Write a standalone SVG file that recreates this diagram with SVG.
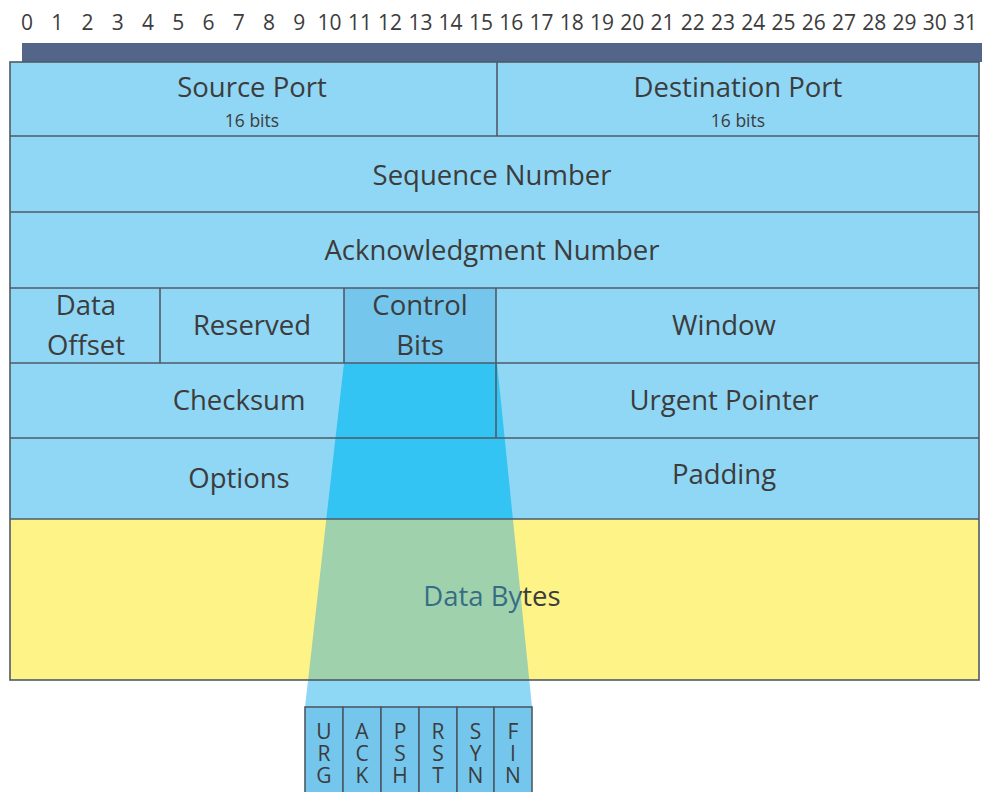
<svg xmlns="http://www.w3.org/2000/svg" width="982" height="792" viewBox="0 0 982 792">
  <style>
    .cell { fill: #90D7F5; }
    .ctl { fill: #74C6EC; }
    .line { stroke: #4E5A66; stroke-width: 1.6; fill: none; }
    .flagbox { fill: #74C6EC; stroke: #4E5A66; stroke-width: 1.6; }
    .t { font-family: "Open Sans", "DejaVu Sans", sans-serif; fill: #3C3C3C; text-anchor: middle; }
    .big { font-size: 27.5px; }
    .small { font-size: 17.5px; }
    .num { font-size: 21px; }
    .bit { font-family: "Open Sans", "DejaVu Sans", sans-serif; fill: #3C3C3C; font-size: 21px;
           writing-mode: vertical-rl; text-orientation: upright; letter-spacing: -6px; }
  </style>
  <rect width="982" height="792" fill="#FFFFFF"/>

  <!-- bit index ruler -->
  <g id="ruler" class="t num">
    <text x="27" y="30">0</text><text x="57.3" y="30">1</text><text x="87.5" y="30">2</text><text x="117.8" y="30">3</text>
    <text x="148" y="30">4</text><text x="178.3" y="30">5</text><text x="208.6" y="30">6</text><text x="238.8" y="30">7</text>
    <text x="269.1" y="30">8</text><text x="299.3" y="30">9</text><text x="329.6" y="30">10</text><text x="359.9" y="30">11</text>
    <text x="390.1" y="30">12</text><text x="420.4" y="30">13</text><text x="450.6" y="30">14</text><text x="480.9" y="30">15</text>
    <text x="511.2" y="30">16</text><text x="541.4" y="30">17</text><text x="571.7" y="30">18</text><text x="601.9" y="30">19</text>
    <text x="632.2" y="30">20</text><text x="662.5" y="30">21</text><text x="692.7" y="30">22</text><text x="723" y="30">23</text>
    <text x="753.2" y="30">24</text><text x="783.5" y="30">25</text><text x="813.8" y="30">26</text><text x="844" y="30">27</text>
    <text x="874.3" y="30">28</text><text x="904.5" y="30">29</text><text x="934.8" y="30">30</text><text x="965" y="30">31</text>
  </g>
  <rect id="ruler-bar" x="22" y="43" width="962" height="19" fill="#536589"/>

  <!-- header fills -->
  <g id="fills">
    <rect class="cell" x="10" y="62" width="969" height="457"/>
    <rect class="ctl" x="344" y="288" width="152" height="75"/>
    <rect x="10" y="519" width="969" height="161" fill="#FEF387"/>
  </g>

  <g id="data-bytes">
    <text class="t big" x="492" y="606">Data Bytes</text>
  </g>

  <!-- projection of the control bits down to the flag cells -->
  <g id="connectors">
    <polygon points="344,363 497,363 512.9,519 326.3,519" fill="#33C4F3"/>
    <polygon points="326.3,519 512.9,519 529.3,680 308.1,680" fill="#2EA9DC" fill-opacity="0.45"/>
    <polygon points="308.1,680 529.3,680 532,707 305,707" fill="#8ED8F5"/>
  </g>

  <!-- field grid -->
  <g id="grid" class="line">
    <rect x="10" y="62" width="969" height="618"/>
    <line x1="10" y1="136" x2="979" y2="136"/>
    <line x1="10" y1="212" x2="979" y2="212"/>
    <line x1="10" y1="288" x2="979" y2="288"/>
    <line x1="10" y1="363" x2="979" y2="363"/>
    <line x1="10" y1="438" x2="979" y2="438"/>
    <line x1="10" y1="519" x2="979" y2="519"/>
    <line x1="497" y1="62" x2="497" y2="136"/>
    <line x1="160" y1="288" x2="160" y2="363"/>
    <line x1="344" y1="288" x2="344" y2="363"/>
    <line x1="496" y1="288" x2="496" y2="438"/>
  </g>

  <g id="source-port" class="t">
    <text class="big" x="252" y="97">Source Port</text>
    <text class="small" x="252" y="127">16 bits</text>
  </g>
  <g id="destination-port" class="t">
    <text class="big" x="738" y="97">Destination Port</text>
    <text class="small" x="738" y="127">16 bits</text>
  </g>
  <g id="sequence-number" class="t big"><text x="492" y="185">Sequence Number</text></g>
  <g id="ack-number" class="t big"><text x="492" y="260">Acknowledgment Number</text></g>
  <g id="data-offset" class="t big"><text x="86" y="315">Data<tspan x="86" dy="40">Offset</tspan></text></g>
  <g id="reserved" class="t big"><text x="252" y="335">Reserved</text></g>
  <g id="control-bits" class="t big"><text x="420" y="315">Control<tspan x="420" dy="40">Bits</tspan></text></g>
  <g id="window" class="t big"><text x="724" y="335">Window</text></g>
  <g id="checksum" class="t big"><text x="239" y="410">Checksum</text></g>
  <g id="urgent-pointer" class="t big"><text x="724" y="410">Urgent Pointer</text></g>
  <g id="options" class="t big"><text x="239" y="488">Options</text></g>
  <g id="padding" class="t big"><text x="724" y="484">Padding</text></g>

  <!-- flag cells, letters stacked top to bottom -->
  <g id="flags">
    <g id="flag-urg">
      <rect class="flagbox" x="305" y="707" width="38" height="100"/>
      <text class="bit" x="324" y="717">URG</text>
    </g>
    <g id="flag-ack">
      <rect class="flagbox" x="343" y="707" width="38" height="100"/>
      <text class="bit" x="362" y="717">ACK</text>
    </g>
    <g id="flag-psh">
      <rect class="flagbox" x="381" y="707" width="38" height="100"/>
      <text class="bit" x="400" y="717">PSH</text>
    </g>
    <g id="flag-rst">
      <rect class="flagbox" x="419" y="707" width="38" height="100"/>
      <text class="bit" x="438" y="717">RST</text>
    </g>
    <g id="flag-syn">
      <rect class="flagbox" x="457" y="707" width="37" height="100"/>
      <text class="bit" x="475.5" y="717">SYN</text>
    </g>
    <g id="flag-fin">
      <rect class="flagbox" x="494" y="707" width="38" height="100"/>
      <text class="bit" x="513" y="717">FIN</text>
    </g>
  </g>
</svg>
